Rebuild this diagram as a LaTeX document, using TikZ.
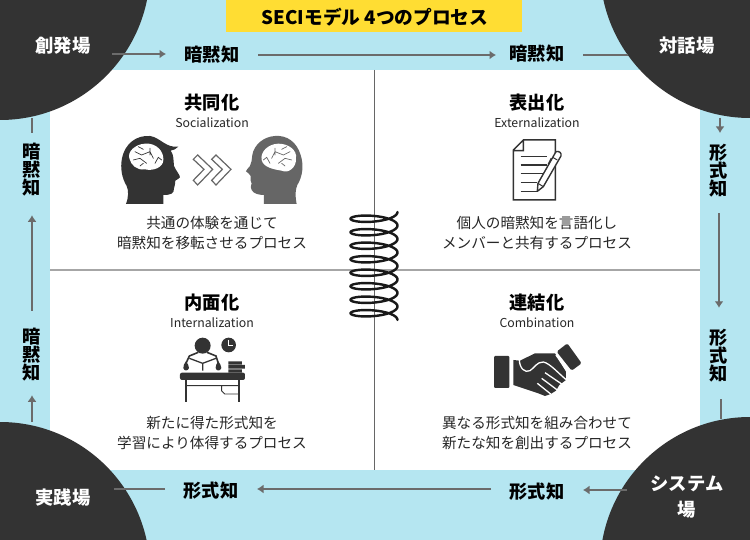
\documentclass[tikz,border=0pt]{standalone}
\usepackage{fontspec}
\setmainfont{Noto Sans CJK JP}
\usetikzlibrary{arrows.meta}
\definecolor{skyb}{HTML}{B5E6F1}
\definecolor{yel}{HTML}{FFDD33}
\definecolor{dark}{HTML}{333333}
\definecolor{conn}{HTML}{6B6B6B}
\definecolor{gry}{HTML}{666666}
\tikzset{
 hall/.style={circle,fill=dark,inner sep=0pt,minimum size=300pt},
 halltxt/.style={font=\fontsize{18.3}{26}\selectfont\bfseries,text=white,align=center,inner sep=0pt},
 lblh/.style={font=\fontsize{18.2}{18}\selectfont\bfseries,text=black,inner ysep=0pt,inner xsep=18.5pt,text height=14pt,text depth=3pt},
 lblv/.style={font=\fontsize{18.2}{18}\selectfont\bfseries,text=black,align=center,inner sep=0pt},
 arr/.style={draw=conn,line width=2pt,-{Latex[length=6.5pt,width=9pt]}},
 lin/.style={draw=conn,line width=2pt},
 head/.style={font=\fontsize{18.2}{20}\selectfont\bfseries,text=black,inner sep=0pt},
 sub/.style={font=\fontsize{12.3}{14}\selectfont,text=black!85,inner sep=0pt},
 body/.style={font=\fontsize{14.6}{20}\selectfont,text=black!85,align=center,inner sep=0pt},
}
\newcommand{\squiggle}{(105,215)--(125,225)--(150,215)--(160,235) (150,205)--(150,225) (100,240)--(120,235)--(140,250) (120,258)--(130,250) (165,250)--(175,232)--(185,240) (115,200)--(130,208)}
\begin{document}
\begin{tikzpicture}[x=1pt,y=-1pt]
\useasboundingbox (0,0) rectangle (750,540);
\fill[skyb] (0,0) rectangle (750,540);
\fill[white] (50,70) rectangle (700,470);
\fill[yel] (226,0) rectangle (522,32);
\node[font=\fontsize{18.7}{20}\selectfont\bfseries,text=black,inner sep=0pt] (title) at (375,17) {SECIモデル 4つのプロセス};
\draw[draw=gry,line width=1.2pt] (374.5,70) -- (374.5,470);
\draw[draw=black!35,line width=1.5pt] (50,270) -- (700,270);
% halls
\begin{scope}
\clip (0,0) rectangle (750,540);
\node[hall] (tl) at (0,-30) {};
\node[hall] (tr) at (750,-32) {};
\node[hall] (bl) at (0,572) {};
\node[hall] (br) at (750,567) {};
\end{scope}
\node[halltxt] (ttl) at (63,46) {創発場};
\node[halltxt] (ttr) at (687,46) {対話場};
\node[halltxt] (tbl) at (63,497.5) {実践場};
\node[halltxt] (tbr) at (687,497.5) {システム\\場};
% labels
\node[lblh] (n1) at (212,56) {暗黙知};
\node[lblh] (n2) at (537,55) {暗黙知};
\node[lblh] (n3) at (211,491.5) {形式知};
\node[lblh] (n4) at (537,492.5) {形式知};
\node[lblv] (l1) at (32,169.5) {暗\\黙\\知};
\node[lblv] (l2) at (32,354.5) {暗\\黙\\知};
\node[lblv] (l3) at (719,170.5) {形\\式\\知};
\node[lblv] (l4) at (719,355.5) {形\\式\\知};
% free ends
\coordinate (c1) at (112,54);
\coordinate (c2) at (628,55);
\coordinate (c3) at (114,489);
\coordinate (c4) at (627,490);
\coordinate (c5) at (32,422);
\coordinate (c6) at (32,118);
\coordinate (c7) at (720,118);
\coordinate (c8) at (721,419);
\draw[arr] (c1) -- (c1 -| n1.west);
\draw[arr,shorten >=-5pt] (n1.east |- c2) -- (n2.west |- c2);
\draw[lin] (n2.east |- c2) -- (c2);
\draw[arr] (c4) -- (c4 -| n4.east);
\draw[arr] (n4.west |- c3) -- (n3.east |- c3);
\draw[lin] (n3.west |- c3) -- (c3);
\draw[arr,shorten >=14pt] (c5) -- (c5 |- l2.south);
\draw[arr,shorten <=17pt,shorten >=19pt] (l2.north) -- (l1.south);
\draw[lin] (32,133) -- (c6);
\draw[arr] (c7) -- (720,133);
\draw[arr,shorten <=16pt,shorten >=21pt] (l3.south) -- (l4.north);
\draw[lin] (c8) -- (721,399);
% quadrant texts
\node[head] (h1) at (212,103) {共同化};
\node[sub] (s1) at (212,122.5) {Socialization};
\node[body] (b1) at (212,233) {共通の体験を通じて\\暗黙知を移転させるプロセス};
\node[head] (h2) at (537,103) {表出化};
\node[sub] (s2) at (537,122.5) {Externalization};
\node[body] (b2) at (537,233) {個人の暗黙知を言語化し\\メンバーと共有するプロセス};
\node[head] (h3) at (212,303) {内面化};
\node[sub] (s3) at (212,322.5) {Internalization};
\node[body] (b3) at (212,433) {新たに得た形式知を\\学習により体得するプロセス};
\node[head] (h4) at (537,303) {連結化};
\node[sub] (s4) at (537,322.5) {Combination};
\node[body] (b4) at (537,433) {異なる形式知を組み合わせて\\新たな知を創出するプロセス};
% heads
\begin{scope}[shift={(100,80)},x=0.3333pt,y=-0.3333pt]
 \fill[dark] (78,372) .. controls (86,350) and (86,332) .. (80,318) .. controls (66,295) and (60,265) .. (66,235) .. controls (75,190) and (110,165) .. (150,168) .. controls (180,172) and (198,205) .. (235,200) .. controls (228,208) and (220,210) .. (212,212) .. controls (222,225) and (220,240) .. (222,258) .. controls (228,272) and (240,285) .. (240,292) .. controls (238,298) and (228,298) .. (226,302) .. controls (228,312) and (222,318) .. (222,325) .. controls (222,340) and (215,345) .. (190,345) -- (190,372) -- cycle;
 \fill[white] (88,235) .. controls (82,215) and (105,193) .. (135,191) .. controls (170,188) and (192,215) .. (190,240) .. controls (190,262) and (160,274) .. (135,268) .. controls (110,272) and (93,255) .. (88,235) -- cycle;
 \draw[dark,line width=0.7pt,line cap=round] \squiggle;
 \foreach \i in {0,55}{
  \draw[gry,line width=1.2pt,fill=white,line join=miter] (280+\i,238) -- (293+\i,225) -- (338+\i,268) -- (293+\i,315) -- (280+\i,301) -- (312+\i,268) -- cycle;
 }
 \fill[gry] (590,372) .. controls (585,345) and (586,330) .. (592,315) .. controls (608,290) and (612,255) .. (602,225) .. controls (590,185) and (560,165) .. (525,168) .. controls (490,170) and (462,195) .. (457,225) .. controls (455,240) and (455,250) .. (450,258) .. controls (445,265) and (438,270) .. (438,274) .. controls (442,280) and (450,280) .. (452,288) .. controls (452,295) and (450,300) .. (455,310) .. controls (452,320) and (452,325) .. (455,330) .. controls (460,342) and (480,345) .. (492,345) -- (492,372) -- cycle;
 \fill[white] (485,240) .. controls (480,215) and (505,192) .. (535,191) .. controls (565,191) and (592,210) .. (588,235) .. controls (590,262) and (565,282) .. (545,272) .. controls (520,268) and (490,262) .. (485,240) -- cycle;
 \begin{scope}[xshift=225pt,x=-0.3333pt]
 \draw[gry,line width=0.7pt,line cap=round] \squiggle;
 \end{scope}
\end{scope}
% document icon
\begin{scope}[shift={(330,130)},x=0.3333pt,y=-0.3333pt]
 \draw[dark,line width=1.5pt,line join=miter] (580,30) -- (676,30) -- (676,210) -- (550,210) -- (550,60) -- cycle (580,30) -- (580,62) -- (550,62);
 \draw[dark,line width=1.6pt] (572,80)--(652,80) (572,105)--(652,105) (572,130)--(638,130) (572,157)--(622,157) (572,184)--(620,184);
 \draw[dark,line width=1.4pt,fill=white,line join=round] (678,65) .. controls (686,62) and (696,68) .. (693,78) -- (640,170) -- (622,184) -- (624,160) -- cycle;
 \draw[dark,line width=1pt] (668,82) -- (682,90) (624,160) -- (640,170);
 \draw[dark,line width=1.5pt] (664,85) -- (655,103);
\end{scope}
% spring
\draw[color=black!90,line width=2.4pt,smooth,samples=330,domain=0:50.265,variable=\t,line cap=round]
 plot ({374+23.5*cos(\t r)},{212+108*\t/50.265+6.2*sin(\t r)});
% desk icon
\begin{scope}[shift={(150,320)},x=0.3333pt,y=-0.3333pt]
 \fill[dark] (158,77) circle (24);
 \fill[dark] (236,75) circle (22);
 \draw[white,line width=1pt] (236,60) -- (236,77) -- (249,77);
 \draw[dark,line width=1.6pt,line join=round] (108,130) -- (118,108) -- (145,97) (171,97) -- (198,108) -- (205,130);
 \draw[dark,line width=1.3pt] (118,115) -- (158,130) -- (198,115) (158,130) -- (158,152);
 \fill[dark] (108,124) .. controls (104,132) and (98,136) .. (100,144) .. controls (102,154) and (114,154) .. (117,144) .. controls (118,136) and (112,132) .. (108,124) -- cycle;
 \fill[dark] (205,124) .. controls (201,132) and (195,136) .. (197,144) .. controls (199,154) and (211,154) .. (214,144) .. controls (215,136) and (209,132) .. (205,124) -- cycle;
 \fill[dark,rounded corners=2pt] (90,158) rectangle (285,180);
 \draw[dark,line width=1.7pt] (108,180) -- (108,245) (267,180) -- (267,245);
 \draw[dark,line width=0.9pt] (108,197) -- (267,197) (215,197) -- (215,213) -- (224,222) -- (267,222);
 \fill[dark] (235,124) rectangle (276,133) (235,135) rectangle (285,146) (235,148) rectangle (276,158);
\end{scope}
% handshake icon
\begin{scope}[shift={(480,330)},x=0.3333pt,y=-0.3333pt]
 \fill[dark,rounded corners=1pt] (42,78) rectangle (88,174);
 \fill[dark,rounded corners=1.5pt] (230,65) -- (262,40) -- (305,100) -- (275,122) -- cycle;
 \fill[dark] (100,90) -- (120,92) -- (165,70) -- (225,70) -- (258,125) -- (258,150) -- (238,165) -- (228,182) -- (212,192) -- (195,198) -- (175,190) -- (100,165) -- cycle;
 \draw[white,line width=1.3pt,line cap=round,line join=round] (118,88) .. controls (118,115) and (135,130) .. (150,122) .. controls (165,112) and (170,96) .. (190,96) .. controls (210,100) and (235,130) .. (262,152);
 \draw[white,line width=1.3pt] (195,128) -- (245,162) (185,145) -- (232,180) (172,160) -- (212,192) (228,75) -- (262,125);
\end{scope}
\end{tikzpicture}
\end{document}
